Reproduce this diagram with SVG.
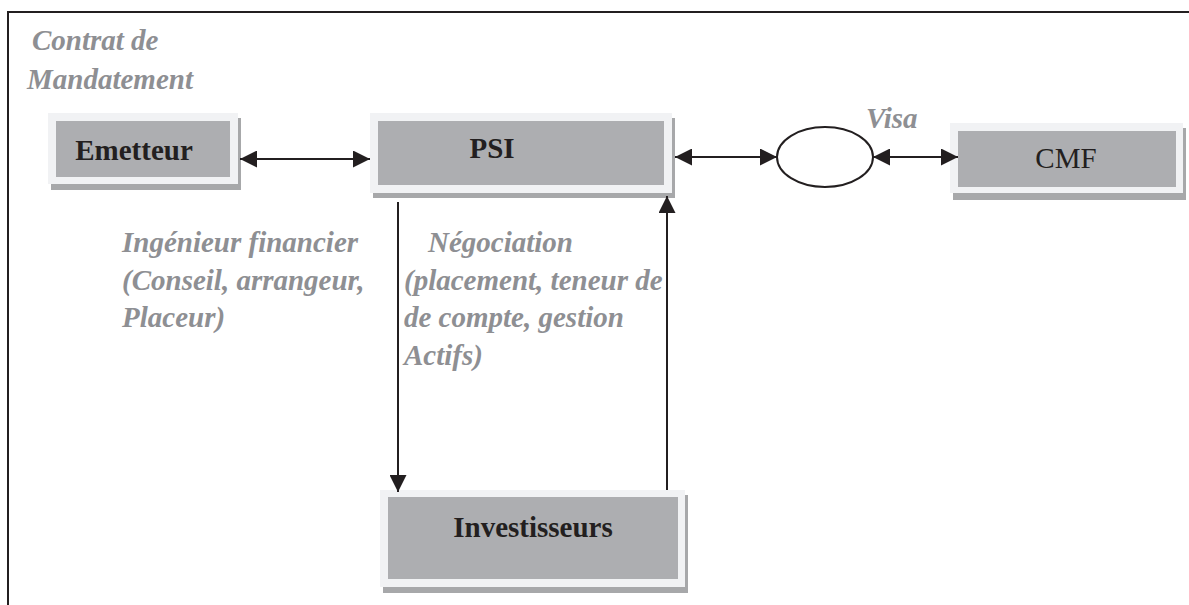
<svg xmlns="http://www.w3.org/2000/svg" width="1189" height="605" viewBox="0 0 1189 605">
<style>
.sh{fill:#a7a8aa}
.out{fill:#f1f2f4}
.in{fill:#adaeb1}
.lbl{font-family:'Liberation Serif','Times New Roman','DejaVu Serif',serif;font-size:29px;fill:#231f20;text-anchor:middle}
.b{font-weight:bold}
.note{font-family:'Liberation Serif','Times New Roman','DejaVu Serif',serif;font-size:29px;font-weight:bold;font-style:italic;fill:#8e8f93}
.ln{stroke:#231f20;stroke-width:2;fill:none}
</style>
<defs>
<marker id="ah" viewBox="0 0 17 17" refX="17" refY="8.5" markerWidth="17" markerHeight="17" markerUnits="userSpaceOnUse" orient="auto-start-reverse">
<path d="M0,0 L17,8.5 L0,17 Z" fill="#231f20"/>
</marker>
</defs>
<rect width="1189" height="605" fill="#ffffff"/>
<g id="frame">
<path class="ln" d="M8,605 V12 H1189" stroke-width="2.5"/>
</g>
<g id="emetteur">
<rect class="sh" x="51" y="118" width="190" height="72"/>
<rect class="out" x="48" y="113" width="190" height="71"/>
<rect class="in" x="56" y="121" width="174" height="56"/>
<text class="lbl b" x="134" y="160">Emetteur</text>
</g>
<g id="psi">
<rect class="sh" x="373" y="118" width="302" height="80"/>
<rect class="out" x="370" y="113" width="302" height="80"/>
<rect class="in" x="378" y="121" width="286" height="64"/>
<text class="lbl b" x="492" y="158">PSI</text>
</g>
<g id="visa-node">
<ellipse cx="825" cy="157" rx="48" ry="30" fill="#ffffff" stroke="#231f20" stroke-width="2"/>
</g>
<g id="cmf">
<rect class="sh" x="953" y="128" width="233" height="72"/>
<rect class="out" x="950" y="123" width="233" height="70"/>
<rect class="in" x="958" y="131" width="218" height="56"/>
<text class="lbl" x="1066" y="168">CMF</text>
</g>
<g id="investisseurs">
<rect class="sh" x="383" y="495" width="305" height="98"/>
<rect class="out" x="380" y="490" width="305" height="97"/>
<rect class="in" x="388" y="497" width="290" height="82"/>
<text class="lbl b" x="533" y="537">Investisseurs</text>
</g>
<g id="connectors">
<line class="ln" x1="240" y1="159" x2="370" y2="159" marker-start="url(#ah)" marker-end="url(#ah)"/>
<line class="ln" x1="675" y1="157" x2="777" y2="157" marker-start="url(#ah)" marker-end="url(#ah)"/>
<line class="ln" x1="873" y1="157" x2="958" y2="157" marker-start="url(#ah)" marker-end="url(#ah)"/>
<line class="ln" x1="398" y1="202" x2="398" y2="492" marker-end="url(#ah)"/>
<line class="ln" x1="667" y1="490" x2="667" y2="196" marker-end="url(#ah)"/>
</g>
<g id="labels">
<text class="note" x="32" y="50">Contrat de</text>
<text class="note" x="27" y="89">Mandatement</text>
<text class="note" x="866" y="128">Visa</text>
<text class="note" x="122" y="252">Ingénieur financier</text>
<text class="note" x="122" y="290">(Conseil, arrangeur,</text>
<text class="note" x="122" y="327">Placeur)</text>
<text class="note" x="428" y="252">Négociation</text>
<text class="note" x="404" y="290">(placement, teneur de</text>
<text class="note" x="404" y="327">de compte, gestion</text>
<text class="note" x="404" y="365">Actifs)</text>
</g>
</svg>
